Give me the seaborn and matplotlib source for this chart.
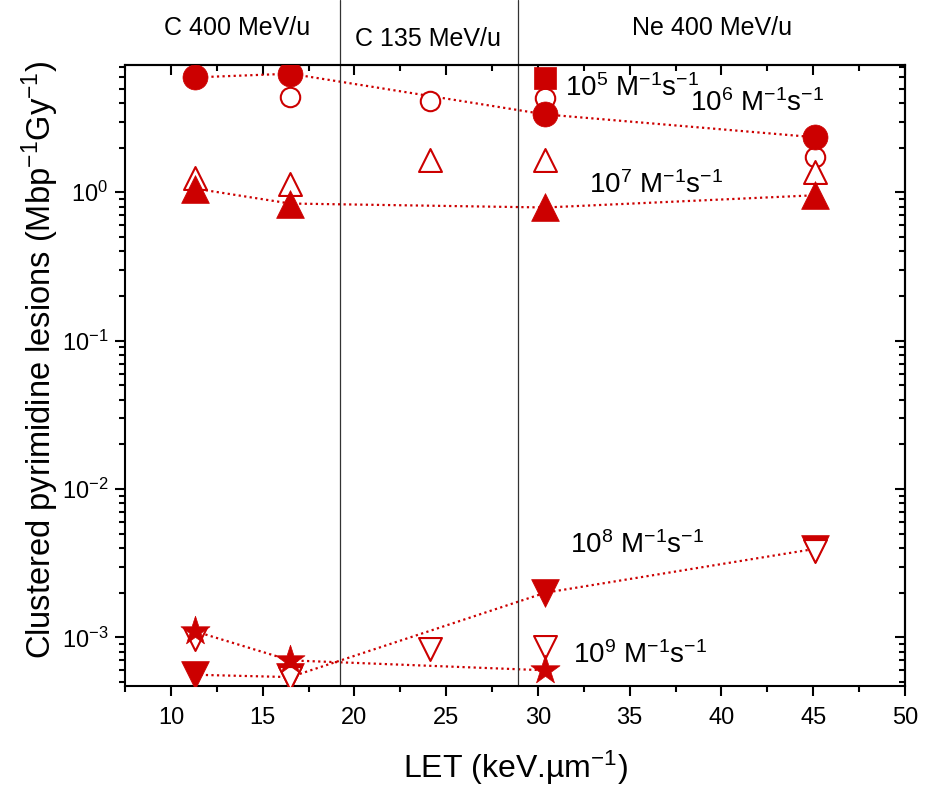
import numpy as np
import pandas as pd
import seaborn as sns
import matplotlib.pyplot as plt
from matplotlib.ticker import MultipleLocator, LogLocator, NullFormatter

sns.set_style('white')
plt.rcParams['font.family'] = ['Liberation Sans', 'DejaVu Sans']
plt.rcParams['mathtext.fontset'] = 'custom'
plt.rcParams['mathtext.rm'] = 'Liberation Sans'
plt.rcParams['mathtext.it'] = 'Liberation Sans'
plt.rcParams['text.color'] = 'black'
plt.rcParams['axes.labelcolor'] = 'black'
plt.rcParams['xtick.color'] = 'black'
plt.rcParams['ytick.color'] = 'black'

RED = '#cc0000'

# LET (keV/um) and yields (Mbp^-1 Gy^-1); filled / open symbols per rate constant
k5_filled_x = [30.4]
k5_filled_y = [5.9]

k6_filled_x = [11.3, 16.5, 30.4, 45.1]
k6_filled_y = [5.95, 6.3, 3.35, 2.35]
k6_open_x = [16.5, 24.1, 30.4, 45.1]
k6_open_y = [4.4, 4.15, 4.3, 1.72]

k7_filled_x = [11.3, 16.5, 30.4, 45.1]
k7_filled_y = [1.06, 0.84, 0.79, 0.955]
k7_open_x = [11.3, 16.5, 24.1, 30.4, 45.1]
k7_open_y = [1.25, 1.14, 1.64, 1.64, 1.36]

k8_filled_x = [11.3, 16.5, 30.4, 45.1]
k8_filled_y = [5.6e-4, 5.4e-4, 2.0e-3, 3.95e-3]
k8_open_x = [11.3, 16.5, 24.1, 30.4, 45.1]
k8_open_y = [9.8e-4, 5.3e-4, 8.3e-4, 8.6e-4, 3.8e-3]

k9_filled_x = [11.3, 16.5, 30.4]
k9_filled_y = [1.1e-3, 7.0e-4, 6.0e-4]

ion_labels = ['C 400 MeV/u', 'C 135 MeV/u', 'Ne 400 MeV/u']
ion_label_x = [13.6, 24.0, 39.5]
ion_boundaries = [19.2, 28.9]

rate_labels = [r'10$^{5}$ M$^{-1}$s$^{-1}$', r'10$^{6}$ M$^{-1}$s$^{-1}$',
               r'10$^{7}$ M$^{-1}$s$^{-1}$', r'10$^{8}$ M$^{-1}$s$^{-1}$',
               r'10$^{9}$ M$^{-1}$s$^{-1}$']
rate_label_x = [31.5, 38.3, 32.8, 31.75, 31.9]
rate_label_y = [5.0, 4.0, 1.11, 4.2e-3, 7.6e-4]


def main():
    fig = plt.figure(figsize=(9.37, 7.92), dpi=100)
    ax = fig.add_axes([0.1334, 0.1338, 0.8324, 0.784])

    # dotted guide lines through the filled series
    for xs, ys in [(k6_filled_x, k6_filled_y), (k7_filled_x, k7_filled_y),
                   (k8_filled_x, k8_filled_y), (k9_filled_x, k9_filled_y)]:
        df = pd.DataFrame({'LET': xs, 'y': ys})
        sns.lineplot(data=df, x='LET', y='y', ax=ax, color=RED, lw=1.6,
                     linestyle=(0, (1, 1.5)), sort=False, zorder=1)

    series = [
        (k6_open_x, k6_open_y, 'o', 14, False),
        (k6_filled_x, k6_filled_y, 'o', 18, True),
        (k5_filled_x, k5_filled_y, 's', 16, True),
        (k7_open_x, k7_open_y, '^', 16.5, False),
        (k7_filled_x, k7_filled_y, '^', 20, True),
        (k8_filled_x, k8_filled_y, 'v', 20, True),
        (k8_open_x, k8_open_y, 'v', 16.5, False),
        (k9_filled_x, k9_filled_y, '*', 22, True),
    ]
    for i, (xs, ys, m, ms, filled) in enumerate(series):
        df = pd.DataFrame({'LET': xs, 'y': ys})
        if filled:
            sns.scatterplot(data=df, x='LET', y='y', ax=ax, marker=m, s=ms ** 2,
                            color=RED, edgecolor=RED, linewidth=0.5, zorder=3 + i)
        else:
            sns.scatterplot(data=df, x='LET', y='y', ax=ax, marker=m, s=ms ** 2,
                            facecolor='white', edgecolor=RED, linewidth=1.5,
                            zorder=3 + i)

    ax.set_yscale('log')
    ax.set_xlim(7.5, 50)
    ax.set_ylim(4.7e-4, 7.2)

    ax.xaxis.set_major_locator(MultipleLocator(5))
    ax.xaxis.set_minor_locator(MultipleLocator(2.5))
    ax.yaxis.set_major_locator(LogLocator(base=10, numticks=10))
    ax.yaxis.set_minor_locator(LogLocator(base=10, subs=np.arange(2, 10), numticks=20))
    ax.yaxis.set_minor_formatter(NullFormatter())
    ax.tick_params(which='both', direction='out', width=1.5, labelsize=17,
                   bottom=True, left=True)
    ax.tick_params(which='major', length=7)
    ax.tick_params(which='minor', length=4)
    ax.tick_params(axis='x', which='major', pad=8)
    ax.tick_params(axis='y', which='major', pad=5)

    top = ax.secondary_xaxis('top')
    top.xaxis.set_major_locator(MultipleLocator(5))
    top.xaxis.set_minor_locator(MultipleLocator(2.5))
    top.tick_params(which='both', direction='in', width=1.5, labeltop=False)
    top.tick_params(which='major', length=7)
    top.tick_params(which='minor', length=4)
    right = ax.secondary_yaxis('right')
    right.yaxis.set_major_locator(LogLocator(base=10, numticks=10))
    right.yaxis.set_minor_locator(LogLocator(base=10, subs=np.arange(2, 10), numticks=20))
    right.tick_params(which='both', direction='in', width=1.5, labelright=False)
    right.tick_params(which='major', length=7)
    right.tick_params(which='minor', length=4)
    for a in (top, right):
        for sp in a.spines.values():
            sp.set_linewidth(1.5)

    for sp in ax.spines.values():
        sp.set_linewidth(1.5)
        sp.set_color('black')

    ax.set_xlabel(r'LET (keV.µm$^{-1}$)', fontsize=23, labelpad=14)
    ax.set_ylabel(r'Clustered pyrimidine lesions (Mbp$^{-1}$Gy$^{-1}$)',
                  fontsize=23.5)
    ax.yaxis.set_label_coords(-0.082, 0.525)

    for xb in ion_boundaries:
        ax.axvline(xb, ymin=0, ymax=1.105, color='#333333', lw=0.9,
                   clip_on=False, zorder=2)

    trans = ax.get_xaxis_transform()
    for lab, lx, ly in zip(ion_labels, ion_label_x, [1.06, 1.042, 1.06]):
        ax.text(lx, ly, lab, transform=trans, ha='center', va='center',
                fontsize=18)

    for lab, lx, ly in zip(rate_labels, rate_label_x, rate_label_y):
        ax.text(lx, ly, lab, ha='left', va='center', fontsize=20, zorder=20)

    fig.savefig('out.png', dpi=100)


if __name__ == '__main__':
    main()
